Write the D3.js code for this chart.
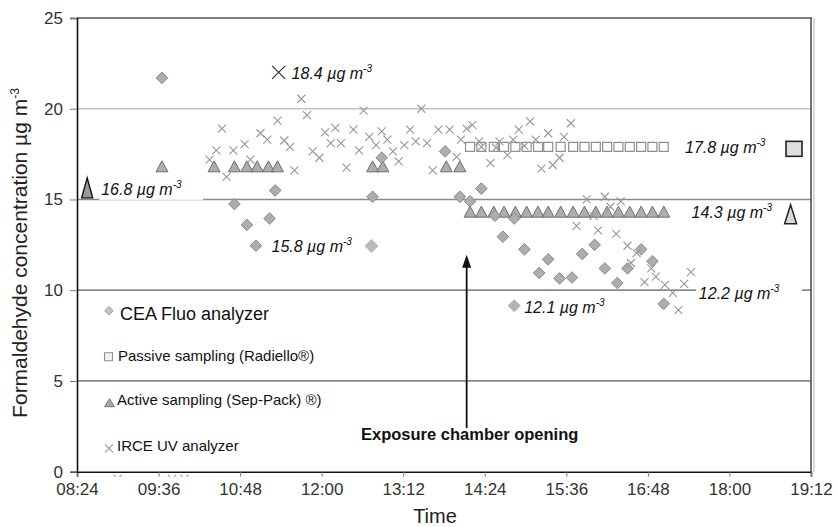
<!DOCTYPE html>
<html>
<head>
<meta charset="utf-8">
<script src="https://cdn.jsdelivr.net/npm/d3@7"></script>
<style>
  html, body { margin: 0; padding: 0; background: #fff; }
  svg { display: block; font-family: "Liberation Sans", Arial, sans-serif; }
</style>
</head>
<body>
<svg id="chart" width="838" height="527"></svg>
<script>
// ---------------- DATA ----------------
const xTickLabels = ["08:24","09:36","10:48","12:00","13:12","14:24","15:36","16:48","18:00","19:12"];
const yTickValues = [0, 5, 10, 15, 20, 25];
const gridValues = [20, 15, 10, 5];

// CEA Fluo analyzer (diamonds)
const ceaTimes  = ["09:39","10:43","10:54","11:02","11:14","11:19","12:45","12:53","13:49","14:02","14:11","14:21","14:33","14:40","14:50","14:59","15:12","15:20","15:30","15:41","15:50","16:01","16:10","16:21","16:30","16:42","16:52","17:02"];
const ceaValues = [21.7, 14.75, 13.6, 12.45, 13.95, 15.5, 15.15, 17.3, 17.65, 15.15, 14.9, 15.6, 14.1, 12.95, 13.95, 12.25, 10.95, 11.7, 10.65, 10.7, 12.0, 12.5, 11.2, 10.4, 11.2, 12.25, 11.6, 9.25];

// Passive sampling (Radiello) (open squares)
const passiveTimes  = ["14:11","14:21","14:32","14:41","14:51","15:01","15:11","15:20","15:31","15:42","15:52","16:02","16:12","16:22","16:32","16:42","16:52","17:02"];
const passiveValues = [17.9, 17.9, 17.9, 17.9, 17.9, 17.9, 17.9, 17.9, 17.9, 17.9, 17.9, 17.9, 17.9, 17.9, 17.9, 17.9, 17.9, 17.9];

// Active sampling (Sep-Pack) (triangles)
const activeTimes  = ["09:39","10:25","10:43","10:54","11:03","11:13","11:21","12:45","12:54","13:50","14:02",
                      "14:11","14:21","14:32","14:41","14:51","15:01","15:11","15:20","15:31","15:42","15:52","16:02","16:12","16:22","16:32","16:42","16:52","17:02"];
const activeValues = [16.8, 16.8, 16.8, 16.8, 16.8, 16.8, 16.8, 16.8, 16.8, 16.8, 16.8,
                      14.3, 14.3, 14.3, 14.3, 14.3, 14.3, 14.3, 14.3, 14.3, 14.3, 14.3, 14.3, 14.3, 14.3, 14.3, 14.3, 14.3, 14.3];

// IRCE UV analyzer (crosses)
const irceTimes  = ["09:00","09:48","09:59","10:21","10:27","10:32","10:36","10:42","10:52","10:57","11:06","11:12","11:21","11:27","11:32","11:36","11:42","11:47","11:52","11:58",
                    "12:03","12:08","12:12","12:17","12:22","12:28","12:33","12:37","12:42","12:48","12:53","12:58","13:03","13:08","13:13","13:18","13:23","13:28","13:33","13:38",
                    "13:43","13:53","13:59","14:03","14:08","14:13","14:19","14:21","14:29","14:34","14:37","14:44","14:49","14:54","14:59","15:04","15:09","15:14","15:20","15:24",
                    "15:30","15:34","15:40","15:45","15:54","16:00","16:04","16:10","16:15","16:20","16:24","16:30","16:33","16:38","16:45","16:51","16:55","17:03","17:10","17:15",
                    "17:20","17:26"];
const irceValues = [-0.4, -0.4, -0.4, 17.2, 17.7, 18.9, 16.25, 17.7, 18.05, 17.2, 18.65, 18.3, 19.35, 18.25, 17.9, 16.6, 20.55, 19.65, 17.65, 17.3,
                    18.7, 18.1, 18.95, 18.1, 16.75, 18.85, 17.7, 19.9, 18.45, 18.0, 18.75, 18.3, 17.65, 17.1, 18.0, 18.85, 18.2, 20.0, 18.1, 16.6,
                    18.85, 18.85, 17.35, 18.3, 18.9, 19.1, 18.2, 17.9, 17.0, 17.85, 18.2, 17.45, 18.3, 18.85, 17.95, 19.3, 18.3, 16.7, 18.65, 16.9,
                    17.3, 18.45, 19.2, 13.55, 15.0, 14.1, 13.3, 15.15, 14.6, 13.1, 14.9, 12.45, 11.5, 12.05, 10.45, 11.2, 10.75, 10.3, 9.85, 8.9,
                    10.35, 11.0];

const legendLabels = ["CEA Fluo analyzer", "Passive sampling (Radiello®)", "Active sampling (Sep-Pack) ®)", "IRCE UV analyzer"];

// Annotated mean values: label text, anchor time, anchor value
const annoTexts  = ["18.4", "16.8", "15.8", "17.8", "14.3", "12.2", "12.1"];
const annoTimes  = ["11:22", "08:33", "12:44", "18:57", "18:54", "17:33", "14:50"];
const annoValues = [22.0, 15.64, 12.44, 17.79, 14.18, 10.0, 9.15];

const arrowTime = "14:08";
const arrowFrom = 2.4, arrowTo = 11.95;
const arrowLabel = "Exposure chamber opening";

// ---------------- SCALES ----------------
const parseT = d3.timeParse("%H:%M");
const svg = d3.select("#chart");
const L = 77, R = 811, T = 18, B = 471.7;
const x = d3.scaleTime().domain([parseT("08:24"), parseT("19:12")]).range([L, R]);
const y = d3.scaleLinear().domain([0, 25]).range([B, T]);

const zip = (ts, vs) => ts.map((t, i) => ({ t: parseT(t), v: vs[i] }));

svg.append("defs").append("clipPath").attr("id", "plotclip")
  .append("rect").attr("x", 0).attr("y", 0).attr("width", 838).attr("height", B + 5);

// ---------------- GRID ----------------
svg.append("g").selectAll("line").data(gridValues).join("line")
  .attr("x1", L).attr("x2", R)
  .attr("y1", d => y(d)).attr("y2", d => y(d))
  .attr("stroke", d => d === 20 ? "#c2c2c2" : "#8a8a8a")
  .attr("stroke-width", d => d === 20 ? 1.6 : (d === 15 ? 1.3 : 1.7));

// Frame (top and right)
svg.append("line").attr("x1", L).attr("x2", R + 1).attr("y1", T).attr("y2", T)
  .attr("stroke", "#555").attr("stroke-width", 1.4);
svg.append("line").attr("x1", R).attr("x2", R).attr("y1", T).attr("y2", B)
  .attr("stroke", "#444").attr("stroke-width", 1.5);
svg.append("line").attr("x1", R + 3).attr("x2", R + 3).attr("y1", T).attr("y2", B)
  .attr("stroke", "#cfcfcf").attr("stroke-width", 1.5);

// ---------------- MARK SHAPES ----------------
const diamondPath = r => `M0,${-r}L${r},0L0,${r}L${-r},0Z`;
const triPath = (w, h) => `M0,${-h / 2}L${w / 2},${h / 2}L${-w / 2},${h / 2}Z`;
const crossPath = s => `M${-s},${-s}L${s},${s}M${-s},${s}L${s},${-s}`;
const squarePath = s => `M${-s},${-s}H${s}V${s}H${-s}Z`;

// white backgrounds of two labels that interrupt gridlines
const bg = svg.append("g");

// ---------------- SERIES ----------------
const gMarks = svg.append("g").attr("clip-path", "url(#plotclip)");
// squares
gMarks.append("g").selectAll("path").data(zip(passiveTimes, passiveValues)).join("path")
  .attr("transform", d => `translate(${x(d.t)},${y(d.v)})`)
  .attr("d", squarePath(4.5)).attr("fill", "#fff").attr("stroke", "#8f8f8f").attr("stroke-width", 1.2);
// triangles
gMarks.append("g").selectAll("path").data(zip(activeTimes, activeValues)).join("path")
  .attr("transform", d => `translate(${x(d.t)},${y(d.v) - 0.5})`)
  .attr("d", triPath(12, 11)).attr("fill", "#adadad").attr("stroke", "#6e6e6e").attr("stroke-width", 1);
// diamonds
gMarks.append("g").selectAll("path").data(zip(ceaTimes, ceaValues)).join("path")
  .attr("transform", d => `translate(${x(d.t)},${y(d.v)})`)
  .attr("d", diamondPath(5.8)).attr("fill", "#adadad").attr("stroke", "#888").attr("stroke-width", 1);
// crosses
gMarks.append("g").selectAll("path").data(zip(irceTimes, irceValues)).join("path")
  .attr("transform", d => `translate(${x(d.t)},${y(d.v)})`)
  .attr("d", crossPath(4)).attr("fill", "none").attr("stroke", "#979797").attr("stroke-width", 1.1);

// ---------------- AXES ----------------
const xAxis = d3.axisBottom(x).tickValues(xTickLabels.map(parseT))
  .tickFormat(d3.timeFormat("%H:%M")).tickSize(5).tickPadding(6);
const gx = svg.append("g").attr("transform", `translate(0,${B})`).call(xAxis);
gx.select(".domain").attr("stroke", "#111").attr("stroke-width", 1.6);
gx.selectAll(".tick line").attr("stroke", "#777");
gx.selectAll("text").attr("font-size", 17).attr("fill", "#333")
  .attr("font-family", "Liberation Sans, Arial, sans-serif");

const yAxis = d3.axisLeft(y).tickValues(yTickValues).tickSize(7).tickPadding(7);
const gy = svg.append("g").attr("transform", `translate(${L},0)`).call(yAxis);
gy.select(".domain").attr("stroke", "#111").attr("stroke-width", 1.6);
gy.selectAll(".tick line").attr("stroke", "#777");
gy.selectAll("text").attr("font-size", 17).attr("fill", "#333")
  .attr("font-family", "Liberation Sans, Arial, sans-serif");

// axis titles
svg.append("text").attr("x", 435).attr("y", 523).attr("text-anchor", "middle")
  .attr("font-size", 20).attr("fill", "#222").text("Time");
const yt = svg.append("text").attr("transform", "translate(27,253) rotate(-90)")
  .attr("text-anchor", "middle").attr("font-size", 21).attr("fill", "#222");
yt.append("tspan").text("Formaldehyde concentration µg m");
yt.append("tspan").attr("font-size", 12).attr("dy", -8).text("-3");

// ---------------- ANNOTATIONS ----------------
const anno = annoTexts.map((t, i) => ({ text: t, t: parseT(annoTimes[i]), v: annoValues[i], i }));
function unitLabel(g, px, py, txt, anchor) {
  const el = g.append("text").attr("x", px).attr("y", py).attr("font-size", 16)
    .attr("font-style", "italic").attr("fill", "#111").attr("text-anchor", anchor || "start");
  el.append("tspan").text(txt + " µg m");
  el.append("tspan").attr("font-size", 10).attr("dy", -7).text("-3");
  return el;
}
const ga = svg.append("g");
anno.forEach(a => {
  const px = x(a.t), py = y(a.v);
  if (a.text === "18.4") {
    ga.append("path").attr("transform", `translate(${px},${py})`).attr("d", crossPath(6.5))
      .attr("stroke", "#333").attr("stroke-width", 1.2).attr("fill", "none");
    unitLabel(ga, px + 13, py + 7, a.text);
  } else if (a.text === "16.8") {
    bg.append("rect").attr("x", px + 12).attr("y", py - 10).attr("width", 104).attr("height", 22).attr("fill", "#fff");
    ga.append("path").attr("transform", `translate(${px},${py})`).attr("d", triPath(11, 20))
      .attr("fill", "#9a9a9a").attr("stroke", "#111").attr("stroke-width", 1.4);
    unitLabel(ga, px + 14, py + 7, a.text);
  } else if (a.text === "15.8") {
    ga.append("path").attr("transform", `translate(${px},${py})`).attr("d", diamondPath(7))
      .attr("fill", "#b8b8b8");
    unitLabel(ga, px - 100, py + 6, a.text);
  } else if (a.text === "17.8") {
    ga.append("rect").attr("x", px - 8).attr("y", py - 7.5).attr("width", 16).attr("height", 15)
      .attr("fill", "#dedede").attr("stroke", "#222").attr("stroke-width", 1.6);
    unitLabel(ga, px - 109, py + 4, a.text);
  } else if (a.text === "14.3") {
    ga.append("path").attr("transform", `translate(${px},${py})`).attr("d", triPath(12, 19))
      .attr("fill", "#d8d8d8").attr("stroke", "#222").attr("stroke-width", 1.5);
    unitLabel(ga, px - 99, py + 4, a.text);
  } else if (a.text === "12.2") {
    bg.append("rect").attr("x", px - 3).attr("y", py - 8).attr("width", 106).attr("height", 16).attr("fill", "#fff");
    unitLabel(ga, px, py + 9, a.text);
  } else if (a.text === "12.1") {
    ga.append("path").attr("transform", `translate(${px},${py})`).attr("d", diamondPath(6.5))
      .attr("fill", "#b3b3b3");
    unitLabel(ga, px + 10, py + 7.6, a.text);
  }
});

// arrow
const ax = x(parseT(arrowTime));
svg.append("line").attr("x1", ax).attr("x2", ax).attr("y1", y(arrowFrom)).attr("y2", y(arrowTo) + 10)
  .attr("stroke", "#111").attr("stroke-width", 1.8);
svg.append("path").attr("d", `M${ax},${y(arrowTo)}L${ax + 4.5},${y(arrowTo) + 13}L${ax - 4.5},${y(arrowTo) + 13}Z`)
  .attr("fill", "#111");
svg.append("text").attr("x", ax + 3).attr("y", y(arrowFrom) + 12).attr("text-anchor", "middle")
  .attr("font-size", 16.5).attr("font-weight", "bold").attr("fill", "#111").text(arrowLabel);

// ---------------- LEGEND ----------------
const lg = svg.append("g");
const legendRows = [
  { mx: 109, my: 310.7, tx: 120, ty: 320, fs: 18 },
  { mx: 108.5, my: 356.7, tx: 118, ty: 361, fs: 15 },
  { mx: 109.5, my: 402.7, tx: 117, ty: 405, fs: 15 },
  { mx: 109, my: 448.3, tx: 117, ty: 451, fs: 15 }
];
legendLabels.forEach((lab, i) => {
  const r = legendRows[i];
  const m = lg.append("path").attr("transform", `translate(${r.mx},${r.my})`);
  if (i === 0) m.attr("d", diamondPath(4.2)).attr("fill", "#c4c4c4").attr("stroke", "#999");
  if (i === 1) m.attr("d", squarePath(4)).attr("fill", "#f2f2f2").attr("stroke", "#8f8f8f").attr("stroke-width", 1.1);
  if (i === 2) m.attr("d", triPath(10, 8)).attr("fill", "#a8a8a8").attr("stroke", "#777");
  if (i === 3) m.attr("d", crossPath(4)).attr("fill", "none").attr("stroke", "#999").attr("stroke-width", 1.1);
  lg.append("text").attr("x", r.tx).attr("y", r.ty).attr("font-size", r.fs).attr("fill", "#111").text(lab);
});
</script>
</body>
</html>
